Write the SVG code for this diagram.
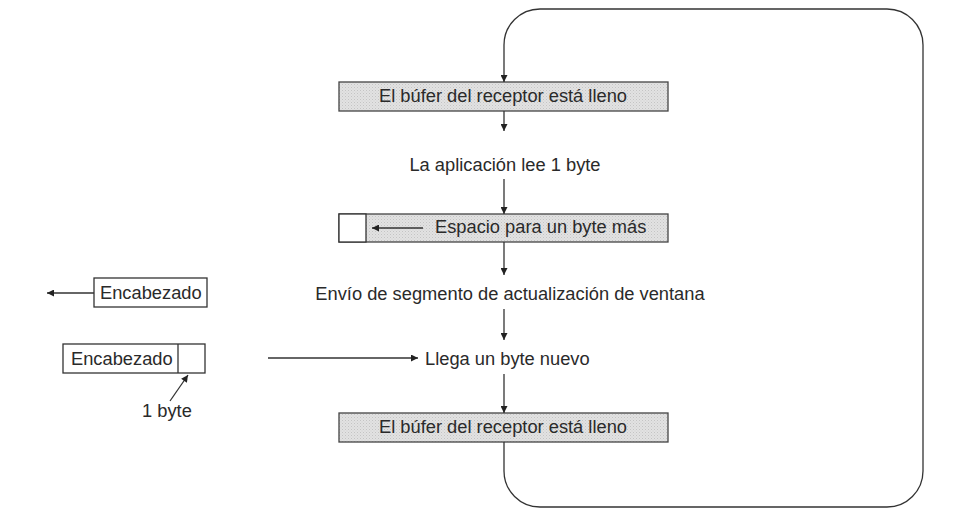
<svg xmlns="http://www.w3.org/2000/svg" width="957" height="514" viewBox="0 0 957 514">
<style>
text{font-family:"Liberation Sans",Arial,sans-serif;font-size:18.3px;fill:#2a2a2a}
.c{text-anchor:middle}
.buf{fill:url(#dots);stroke:#444;stroke-width:1.3}
.box{fill:#fff;stroke:#333;stroke-width:1.3}
.ln{fill:none;stroke:#333;stroke-width:1.3}
</style>
<defs>
<pattern id="dots" width="3" height="3" patternUnits="userSpaceOnUse">
<rect width="3" height="3" fill="#e2e2e2"/>
<rect width="1" height="1" fill="#c4c4c4"/>
<rect x="1.5" y="1.5" width="1" height="1" fill="#cfcfcf"/>
</pattern>
<marker id="ah" viewBox="0 0 10 10" refX="10" refY="5" markerWidth="9" markerHeight="7" markerUnits="userSpaceOnUse" orient="auto">
<path d="M0,0 L10,5 L0,10 z" fill="#222"/>
</marker>
</defs>
<g id="buffer-full-1"><rect class="buf" x="339" y="82" width="329" height="29"/><text class="c" x="503" y="102">El búfer del receptor está lleno</text></g>
<g id="app-reads"><text class="c" x="505" y="171">La aplicación lee 1 byte</text></g>
<g id="space-one-byte"><rect class="buf" x="339" y="214" width="329" height="28"/><rect class="box" x="339" y="214" width="27" height="28"/><text x="435" y="233">Espacio para un byte más</text></g>
<g id="send-window-update"><text class="c" x="510" y="300">Envío de segmento de actualización de ventana</text></g>
<g id="new-byte-arrives"><text x="425" y="365">Llega un byte nuevo</text></g>
<g id="buffer-full-2"><rect class="buf" x="339" y="413" width="329" height="29"/><text class="c" x="503" y="433">El búfer del receptor está lleno</text></g>
<g id="header-segment"><rect class="box" x="94" y="278" width="113" height="29"/><text x="100" y="299">Encabezado</text></g>
<g id="data-segment"><rect class="box" x="63" y="344" width="142" height="29"/><line class="ln" x1="178" y1="344" x2="178" y2="373"/><text x="71" y="365">Encabezado</text></g>
<g id="one-byte-label"><text x="142" y="417">1 byte</text></g>
<g id="connectors">
<line class="ln" x1="504" y1="111" x2="504" y2="131" marker-end="url(#ah)"/>
<line class="ln" x1="504" y1="179" x2="504" y2="214" marker-end="url(#ah)"/>
<line class="ln" x1="423" y1="228" x2="372" y2="228" marker-end="url(#ah)"/>
<line class="ln" x1="504" y1="242" x2="504" y2="275" marker-end="url(#ah)"/>
<line class="ln" x1="504" y1="309" x2="504" y2="340" marker-end="url(#ah)"/>
<line class="ln" x1="504" y1="374" x2="504" y2="413" marker-end="url(#ah)"/>
<line class="ln" x1="268" y1="358" x2="418" y2="358" marker-end="url(#ah)"/>
<line class="ln" x1="94" y1="293" x2="47" y2="293" marker-end="url(#ah)"/>
<line class="ln" x1="170" y1="401" x2="188" y2="375" marker-end="url(#ah)"/>
<path class="ln" d="M504,442 V471 A36,36 0 0 0 540,507 H887 A36,36 0 0 0 923,471 V45 A36,36 0 0 0 887,9 H540 A36,36 0 0 0 504,45 V82" marker-end="url(#ah)"/>
</g>
</svg>
